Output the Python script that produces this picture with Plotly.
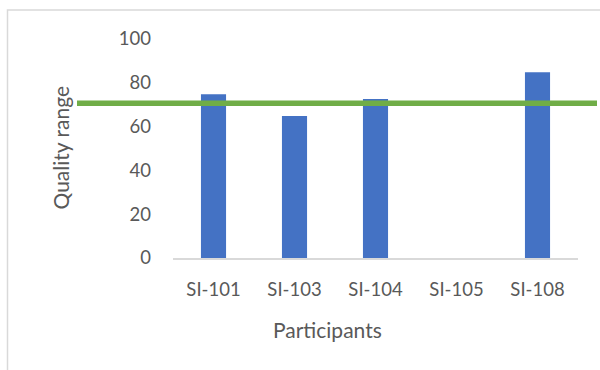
import plotly.graph_objects as go

participants = ["SI-101", "SI-103", "SI-104", "SI-105", "SI-108"]
quality = [74.8, 64.8, 72.6, 0, 84.8]
threshold = 70.7
y_ticks = [0, 20, 40, 60, 80, 100]
x_title = "Participants"
y_title = "Quality range"

L, R, T, B = 173, 22, 39, 112
W, H = 600, 370
pw = W - L - R
ph = H - T - B

def px_to_paper_x(px):
    return (px - L) / pw

def px_to_paper_y(py):
    return (H - B - py) / ph

fig = go.Figure()
fig.add_trace(go.Bar(
    x=participants, y=quality,
    marker=dict(color="#4472C4", line=dict(width=0)),
    width=0.31,
))

fig.add_shape(type="line", xref="paper", yref="y",
              x0=px_to_paper_x(77), x1=px_to_paper_x(597),
              y0=threshold, y1=threshold,
              line=dict(color="#70AD47", width=5.5), layer="above")

# chart border (left and top)
fig.add_shape(type="path", xref="paper", yref="paper",
              path=f"M {px_to_paper_x(7.5)} {px_to_paper_y(372)} L {px_to_paper_x(7.5)} {px_to_paper_y(10)} L {px_to_paper_x(602)} {px_to_paper_y(10)}",
              line=dict(color="#D9D9D9", width=1.5))

fig.add_annotation(text=x_title, xref="paper", yref="paper",
                   x=px_to_paper_x(327.5), y=px_to_paper_y(329),
                   xanchor="center", yanchor="middle", showarrow=False,
                   font=dict(size=21, color="#595959"))
fig.add_annotation(text=y_title, xref="paper", yref="paper",
                   x=px_to_paper_x(60), y=px_to_paper_y(148.5),
                   xanchor="center", yanchor="middle", showarrow=False,
                   textangle=-90, font=dict(size=21, color="#595959"))

fig.update_layout(
    width=W, height=H,
    margin=dict(l=L, r=R, t=T, b=B, autoexpand=False),
    paper_bgcolor="white", plot_bgcolor="white",
    font=dict(family="Lato", color="#595959", size=18),
    showlegend=False,
)
fig.update_xaxes(
    showline=True, linecolor="#D9D9D9", linewidth=1.5,
    showgrid=False, ticks="", ticklabelstandoff=14,
    tickfont=dict(size=18.5, color="#595959"),
    automargin=False,
)
fig.update_yaxes(
    range=[0, 100], tickvals=y_ticks, showgrid=False, zeroline=False,
    showline=False, ticks="", ticklabelstandoff=21,
    tickfont=dict(size=18.5, color="#595959"),
    automargin=False,
)

fig.write_html("out.html")
